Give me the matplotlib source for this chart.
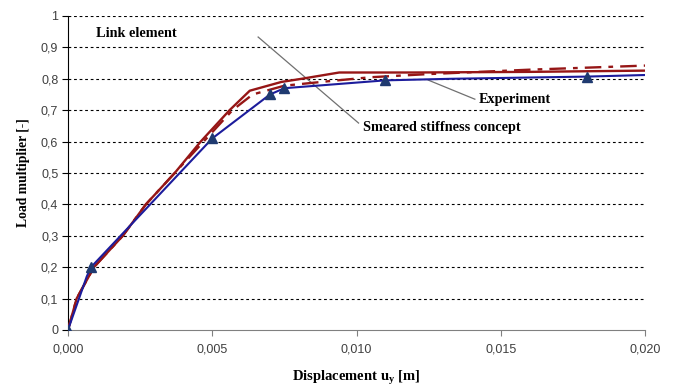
import numpy as np
import matplotlib.pyplot as plt

# experiment (measured points)
exp_x = [0.0, 0.00065, 0.0008, 0.005, 0.007, 0.0075, 0.011, 0.0133, 0.018, 0.020]
exp_y = [0.0, 0.17, 0.20, 0.61, 0.75, 0.77, 0.795, 0.80, 0.807, 0.812]
exp_marks = [0, 2, 3, 4, 5, 6, 8]

# link element model
link_x = [0.0, 0.0003, 0.0009, 0.0019, 0.0027, 0.0037, 0.0046, 0.0056, 0.0063,
          0.0074, 0.0081, 0.0094, 0.012, 0.016, 0.020]
link_y = [0.0, 0.10, 0.20, 0.30, 0.40, 0.50, 0.60, 0.70, 0.762,
          0.79, 0.80, 0.82, 0.82, 0.822, 0.826]

# smeared stiffness model
smear_x = [0.0, 0.0003, 0.0009, 0.0019, 0.0027, 0.0037, 0.0047, 0.0057, 0.0064,
           0.0075, 0.0090, 0.0105, 0.0125, 0.016, 0.020]
smear_y = [0.0, 0.10, 0.20, 0.30, 0.40, 0.50, 0.60, 0.70, 0.75,
           0.778, 0.792, 0.805, 0.815, 0.829, 0.842]

x_ticks = [0.0, 0.005, 0.010, 0.015, 0.020]
x_labels = ["0,000", "0,005", "0,010", "0,015", "0,020"]
y_ticks = [0, 0.1, 0.2, 0.3, 0.4, 0.5, 0.6, 0.7, 0.8, 0.9, 1.0]
y_labels = ["0", "0,1", "0,2", "0,3", "0,4", "0,5", "0,6", "0,7", "0,8", "0,9", "1"]

red = "#961616"
blue = "#1c1c9c"

fig = plt.figure(figsize=(6.75, 3.9), dpi=100)
ax = fig.add_axes([0.1007, 0.154, 0.855, 0.805])

for yv in y_ticks[1:]:
    ax.axhline(yv, color="black", lw=0.8, ls=(0, (2.5, 2.5)), zorder=1)

ax.plot(link_x, link_y, color=red, lw=1.7, zorder=3)
ax.plot(smear_x, smear_y, color=red, lw=1.7, ls=(0, (7, 3, 2, 3)), zorder=3)
ax.plot(exp_x, exp_y, color=blue, lw=1.5, marker="^", ms=7,
        mfc="#1f3a70", mec="#1f3a70", markevery=exp_marks, zorder=4)

# leader lines and labels
ax.plot([0.00659, 0.01007], [0.933, 0.659], color="#707070", lw=0.9, zorder=2)
ax.plot([0.01248, 0.0141], [0.796, 0.735], color="#707070", lw=0.9, zorder=2)

serif = "Liberation Serif"
ax.text(0.00097, 0.943, "Link element", family=serif, fontweight="bold",
        fontsize=10.3, va="center", ha="left")
ax.text(0.01424, 0.735, "Experiment", family=serif, fontweight="bold",
        fontsize=10.3, va="center", ha="left")
ax.text(0.01024, 0.646, "Smeared stiffness concept", family=serif,
        fontweight="bold", fontsize=10.3, va="center", ha="left")

ax.set_xlim(0, 0.020)
ax.set_ylim(0, 1)
ax.set_xticks(x_ticks)
ax.set_xticklabels(x_labels, family="Liberation Sans", fontsize=9, color="#404040")
ax.set_yticks(y_ticks)
ax.set_yticklabels(y_labels, family="Liberation Sans", fontsize=9, color="#404040")
ax.tick_params(axis="x", length=4, color="#808080", pad=6)
ax.tick_params(axis="y", length=4, color="black", pad=3)

for s in ["top", "right"]:
    ax.spines[s].set_visible(False)
ax.spines["bottom"].set_color("#808080")
ax.spines["left"].set_color("black")

ax.set_xlabel("Displacement u$_\\mathregular{y}$ [m]", family=serif,
              fontweight="bold", fontsize=10.5, labelpad=9)
ax.set_ylabel("Load multiplier [-]", family=serif, fontweight="bold",
              fontsize=9.8, labelpad=8)

fig.savefig("out.png", dpi=100)
